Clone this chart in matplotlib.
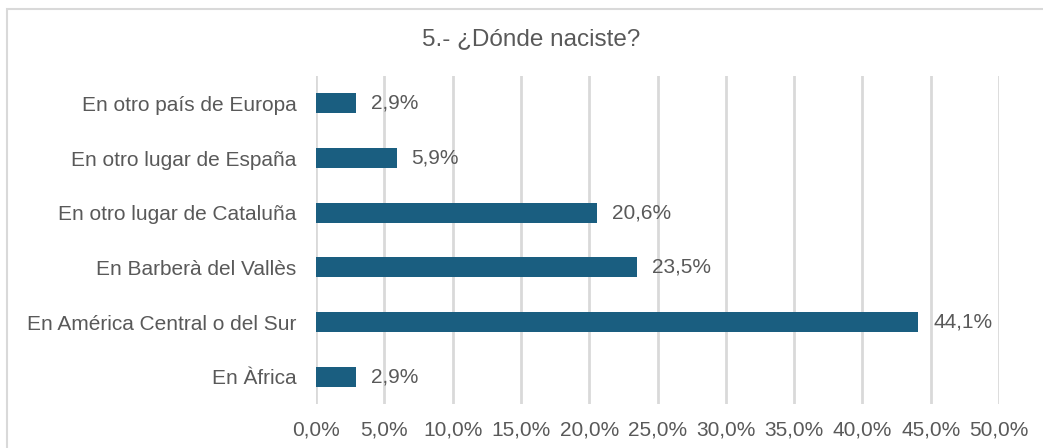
import matplotlib
matplotlib.use("Agg")
import matplotlib.pyplot as plt
from matplotlib.patches import Rectangle

categories = ["En otro país de Europa", "En otro lugar de España", "En otro lugar de Cataluña",
              "En Barberà del Vallès", "En América Central o del Sur", "En Àfrica"]
values = [2.9, 5.9, 20.6, 23.5, 44.1, 2.9]
xticks = [0, 5, 10, 15, 20, 25, 30, 35, 40, 45, 50]
title = "5.- ¿Dónde naciste?"

plt.rcParams['font.family'] = ['Liberation Sans', 'DejaVu Sans']
txt = '#595959'
bar_color = '#1A5E80'
fs = 15

fig = plt.figure(figsize=(10.43, 4.48), dpi=100)
ax = fig.add_axes([316/1043, 1-404/448, (999-316)/1043, (404-76)/448])

ypos = list(range(len(categories)))[::-1]
ax.barh(ypos, values, height=0.37, color=bar_color, zorder=3)
for y, v in zip(ypos, values):
    ax.text(v + 1.1, y, f"{v:.1f}%".replace('.', ','), va='center', ha='left',
            fontsize=fs, color=txt)

ax.set_xlim(0, 50)
ax.set_ylim(-0.5, 5.5)
ax.set_yticks(ypos)
ax.set_yticklabels(categories, fontsize=fs, color=txt)
ax.set_xticks(xticks)
ax.set_xticklabels([f"{t:.1f}%".replace('.', ',') for t in xticks], fontsize=fs, color=txt)
ax.tick_params(axis='both', length=0)
ax.tick_params(axis='y', pad=14)
ax.tick_params(axis='x', pad=12)
ax.grid(axis='x', color='#d9d9d9', linewidth=2, zorder=0)
for s in ax.spines.values():
    s.set_visible(False)

fig.text(531/1043, 1-39/448, title, ha='center', va='center', fontsize=17.5, color=txt)

fig.patches.append(Rectangle((7/1043, -0.1), 1.2, 1 - 9/448 + 0.1, transform=fig.transFigure,
                             fill=False, edgecolor='#d9d9d9', linewidth=1.5))

fig.savefig("out.png", dpi=100)
